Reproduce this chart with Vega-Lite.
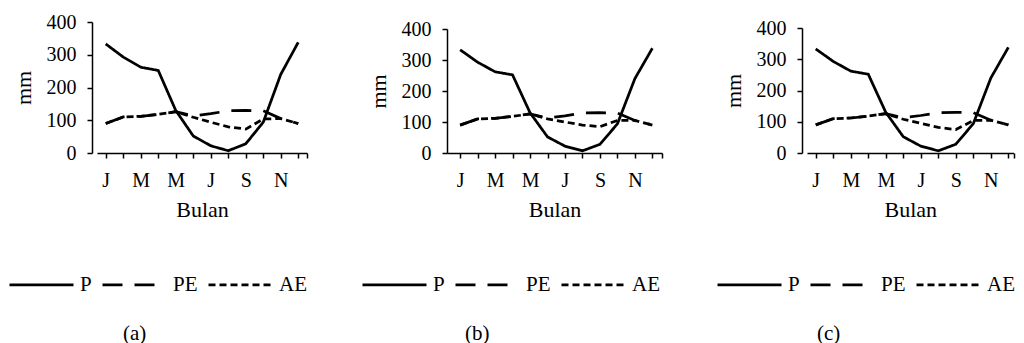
{
  "$schema": "https://vega.github.io/schema/vega-lite/v6.json",
  "bounds": "flush",
  "spacing": 139,
  "padding": {"left": 8, "top": 12, "right": 0, "bottom": 0},
  "resolve": {"scale": {"strokeDash": "independent"}, "legend": {"strokeDash": "independent"}},
  "config": {
    "view": {"stroke": null},
    "font": "Liberation Serif",
    "axis": {"domainColor": "black", "tickColor": "black", "labelColor": "black", "titleColor": "black", "labelFont": "Liberation Serif", "titleFont": "Liberation Serif", "labelFontSize": 20, "titleFontSize": 22, "titleFontWeight": "normal", "grid": false, "domainWidth": 1.5, "tickWidth": 1.5, "tickSize": 5},
    "axisY": {"labelPadding": 11, "titlePadding": 11},
    "axisX": {"labelPadding": 12, "titlePadding": 9},
    "legend": {"labelFont": "Liberation Serif", "labelFontSize": 21, "labelColor": "black"},
    "title": {"font": "Liberation Serif", "fontSize": 21, "fontWeight": "normal", "color": "black"}
  },
  "datasets": {
    "clim": [
      {"panel": "a", "series": "P", "month": 1, "mm": 333}, {"panel": "a", "series": "P", "month": 2, "mm": 293}, {"panel": "a", "series": "P", "month": 3, "mm": 262}, {"panel": "a", "series": "P", "month": 4, "mm": 252}, {"panel": "a", "series": "P", "month": 5, "mm": 130}, {"panel": "a", "series": "P", "month": 6, "mm": 52}, {"panel": "a", "series": "P", "month": 7, "mm": 22}, {"panel": "a", "series": "P", "month": 8, "mm": 7}, {"panel": "a", "series": "P", "month": 9, "mm": 28}, {"panel": "a", "series": "P", "month": 10, "mm": 94}, {"panel": "a", "series": "P", "month": 11, "mm": 240}, {"panel": "a", "series": "P", "month": 12, "mm": 338},
      {"panel": "a", "series": "PE", "month": 1, "mm": 90}, {"panel": "a", "series": "PE", "month": 2, "mm": 110}, {"panel": "a", "series": "PE", "month": 3, "mm": 112}, {"panel": "a", "series": "PE", "month": 4, "mm": 118}, {"panel": "a", "series": "PE", "month": 5, "mm": 126}, {"panel": "a", "series": "PE", "month": 6, "mm": 113}, {"panel": "a", "series": "PE", "month": 7, "mm": 120}, {"panel": "a", "series": "PE", "month": 8, "mm": 129}, {"panel": "a", "series": "PE", "month": 9, "mm": 130}, {"panel": "a", "series": "PE", "month": 10, "mm": 129}, {"panel": "a", "series": "PE", "month": 11, "mm": 105}, {"panel": "a", "series": "PE", "month": 12, "mm": 90},
      {"panel": "a", "series": "AE", "month": 1, "mm": 90}, {"panel": "a", "series": "AE", "month": 2, "mm": 110}, {"panel": "a", "series": "AE", "month": 3, "mm": 112}, {"panel": "a", "series": "AE", "month": 4, "mm": 118}, {"panel": "a", "series": "AE", "month": 5, "mm": 126}, {"panel": "a", "series": "AE", "month": 6, "mm": 109}, {"panel": "a", "series": "AE", "month": 7, "mm": 94}, {"panel": "a", "series": "AE", "month": 8, "mm": 80}, {"panel": "a", "series": "AE", "month": 9, "mm": 73}, {"panel": "a", "series": "AE", "month": 10, "mm": 104}, {"panel": "a", "series": "AE", "month": 11, "mm": 105}, {"panel": "a", "series": "AE", "month": 12, "mm": 90},
      {"panel": "b", "series": "P", "month": 1, "mm": 333}, {"panel": "b", "series": "P", "month": 2, "mm": 293}, {"panel": "b", "series": "P", "month": 3, "mm": 262}, {"panel": "b", "series": "P", "month": 4, "mm": 252}, {"panel": "b", "series": "P", "month": 5, "mm": 130}, {"panel": "b", "series": "P", "month": 6, "mm": 52}, {"panel": "b", "series": "P", "month": 7, "mm": 22}, {"panel": "b", "series": "P", "month": 8, "mm": 7}, {"panel": "b", "series": "P", "month": 9, "mm": 28}, {"panel": "b", "series": "P", "month": 10, "mm": 94}, {"panel": "b", "series": "P", "month": 11, "mm": 240}, {"panel": "b", "series": "P", "month": 12, "mm": 338},
      {"panel": "b", "series": "PE", "month": 1, "mm": 90}, {"panel": "b", "series": "PE", "month": 2, "mm": 110}, {"panel": "b", "series": "PE", "month": 3, "mm": 112}, {"panel": "b", "series": "PE", "month": 4, "mm": 118}, {"panel": "b", "series": "PE", "month": 5, "mm": 126}, {"panel": "b", "series": "PE", "month": 6, "mm": 113}, {"panel": "b", "series": "PE", "month": 7, "mm": 120}, {"panel": "b", "series": "PE", "month": 8, "mm": 129}, {"panel": "b", "series": "PE", "month": 9, "mm": 130}, {"panel": "b", "series": "PE", "month": 10, "mm": 129}, {"panel": "b", "series": "PE", "month": 11, "mm": 105}, {"panel": "b", "series": "PE", "month": 12, "mm": 90},
      {"panel": "b", "series": "AE", "month": 1, "mm": 90}, {"panel": "b", "series": "AE", "month": 2, "mm": 110}, {"panel": "b", "series": "AE", "month": 3, "mm": 112}, {"panel": "b", "series": "AE", "month": 4, "mm": 118}, {"panel": "b", "series": "AE", "month": 5, "mm": 126}, {"panel": "b", "series": "AE", "month": 6, "mm": 110}, {"panel": "b", "series": "AE", "month": 7, "mm": 100}, {"panel": "b", "series": "AE", "month": 8, "mm": 90}, {"panel": "b", "series": "AE", "month": 9, "mm": 85}, {"panel": "b", "series": "AE", "month": 10, "mm": 105}, {"panel": "b", "series": "AE", "month": 11, "mm": 105}, {"panel": "b", "series": "AE", "month": 12, "mm": 90},
      {"panel": "c", "series": "P", "month": 1, "mm": 333}, {"panel": "c", "series": "P", "month": 2, "mm": 293}, {"panel": "c", "series": "P", "month": 3, "mm": 262}, {"panel": "c", "series": "P", "month": 4, "mm": 252}, {"panel": "c", "series": "P", "month": 5, "mm": 130}, {"panel": "c", "series": "P", "month": 6, "mm": 52}, {"panel": "c", "series": "P", "month": 7, "mm": 22}, {"panel": "c", "series": "P", "month": 8, "mm": 7}, {"panel": "c", "series": "P", "month": 9, "mm": 28}, {"panel": "c", "series": "P", "month": 10, "mm": 94}, {"panel": "c", "series": "P", "month": 11, "mm": 240}, {"panel": "c", "series": "P", "month": 12, "mm": 338},
      {"panel": "c", "series": "PE", "month": 1, "mm": 90}, {"panel": "c", "series": "PE", "month": 2, "mm": 110}, {"panel": "c", "series": "PE", "month": 3, "mm": 112}, {"panel": "c", "series": "PE", "month": 4, "mm": 118}, {"panel": "c", "series": "PE", "month": 5, "mm": 126}, {"panel": "c", "series": "PE", "month": 6, "mm": 113}, {"panel": "c", "series": "PE", "month": 7, "mm": 120}, {"panel": "c", "series": "PE", "month": 8, "mm": 129}, {"panel": "c", "series": "PE", "month": 9, "mm": 130}, {"panel": "c", "series": "PE", "month": 10, "mm": 129}, {"panel": "c", "series": "PE", "month": 11, "mm": 105}, {"panel": "c", "series": "PE", "month": 12, "mm": 90},
      {"panel": "c", "series": "AE", "month": 1, "mm": 90}, {"panel": "c", "series": "AE", "month": 2, "mm": 110}, {"panel": "c", "series": "AE", "month": 3, "mm": 112}, {"panel": "c", "series": "AE", "month": 4, "mm": 118}, {"panel": "c", "series": "AE", "month": 5, "mm": 126}, {"panel": "c", "series": "AE", "month": 6, "mm": 108}, {"panel": "c", "series": "AE", "month": 7, "mm": 95}, {"panel": "c", "series": "AE", "month": 8, "mm": 82}, {"panel": "c", "series": "AE", "month": 9, "mm": 75}, {"panel": "c", "series": "AE", "month": 10, "mm": 104}, {"panel": "c", "series": "AE", "month": 11, "mm": 105}, {"panel": "c", "series": "AE", "month": 12, "mm": 90}
    ]
  },
  "hconcat": [
    {
      "width": 216, "height": 131,
      "data": {"name": "clim"},
      "transform": [{"filter": "datum.panel == 'a'"}],
      "title": {"text": "(a)", "orient": "bottom", "anchor": "start", "frame": "group", "dx": 31, "offset": 28},
      "mark": {"type": "line", "color": "black", "strokeWidth": 2.75},
      "encoding": {
        "x": {"field": "month", "type": "quantitative", "scale": {"domain": [0.5, 12.5], "range": [5, 215], "nice": false, "zero": false},
              "axis": {"values": [1,2,3,4,5,6,7,8,9,10,11,12,12.5], "labelExpr": "datum.value % 2 == 1 && datum.value < 12 ? ['','J','F','M','A','M','J','J','A','S','O','N','D'][datum.value] : ''", "title": "Bulan", "labelAngle": 0, "labelFlush": false}},
        "y": {"field": "mm", "type": "quantitative", "scale": {"domain": [0, 400], "range": [131, 0], "nice": false},
              "axis": {"values": [0,100,200,300,400], "title": "mm"}},
        "strokeDash": {"field": "series", "type": "nominal", "scale": {"domain": ["P", "PE", "AE"], "range": [[1, 0], [20, 12], [7, 4]]},
              "legend": {"orient": "none", "legendX": -84, "legendY": 229, "direction": "horizontal", "title": null, "symbolType": "stroke", "symbolSize": 4096, "symbolStrokeWidth": 2.75, "symbolStrokeColor": "black", "labelOffset": 5, "columnPadding": 5}}
      }
    },
    {
      "width": 216, "height": 131,
      "data": {"name": "clim"},
      "transform": [{"filter": "datum.panel == 'b'"}],
      "title": {"text": "(b)", "orient": "bottom", "anchor": "start", "frame": "group", "dx": 18, "offset": 28},
      "mark": {"type": "line", "color": "black", "strokeWidth": 2.75},
      "encoding": {
        "x": {"field": "month", "type": "quantitative", "scale": {"domain": [0.25, 12.55], "range": [0, 215], "nice": false, "zero": false},
              "axis": {"values": [1,2,3,4,5,6,7,8,9,10,11,12,12.55], "labelExpr": "datum.value % 2 == 1 && datum.value < 12 ? ['','J','F','M','A','M','J','J','A','S','O','N','D'][datum.value] : ''", "title": "Bulan", "labelAngle": 0, "labelFlush": false}},
        "y": {"field": "mm", "type": "quantitative", "scale": {"domain": [0, 400], "range": [131, 7], "nice": false},
              "axis": {"values": [0,100,200,300,400], "title": "mm"}},
        "strokeDash": {"field": "series", "type": "nominal", "scale": {"domain": ["P", "PE", "AE"], "range": [[1, 0], [20, 12], [7, 4]]},
              "legend": {"orient": "none", "legendX": -86, "legendY": 229, "direction": "horizontal", "title": null, "symbolType": "stroke", "symbolSize": 4096, "symbolStrokeWidth": 2.75, "symbolStrokeColor": "black", "labelOffset": 5, "columnPadding": 5}}
      }
    },
    {
      "width": 216, "height": 131,
      "data": {"name": "clim"},
      "transform": [{"filter": "datum.panel == 'c'"}],
      "title": {"text": "(c)", "orient": "bottom", "anchor": "start", "frame": "group", "dx": 15, "offset": 28},
      "mark": {"type": "line", "color": "black", "strokeWidth": 2.75},
      "encoding": {
        "x": {"field": "month", "type": "quantitative", "scale": {"domain": [0.5, 12.3], "range": [5, 211.6], "nice": false, "zero": false},
              "axis": {"values": [1,2,3,4,5,6,7,8,9,10,11,12,12.3], "labelExpr": "datum.value % 2 == 1 && datum.value < 12 ? ['','J','F','M','A','M','J','J','A','S','O','N','D'][datum.value] : ''", "title": "Bulan", "labelAngle": 0, "labelFlush": false}},
        "y": {"field": "mm", "type": "quantitative", "scale": {"domain": [0, 400], "range": [131, 6], "nice": false},
              "axis": {"values": [0,100,200,300,400], "title": "mm"}},
        "strokeDash": {"field": "series", "type": "nominal", "scale": {"domain": ["P", "PE", "AE"], "range": [[1, 0], [20, 12], [7, 4]]},
              "legend": {"orient": "none", "legendX": -86, "legendY": 229, "direction": "horizontal", "title": null, "symbolType": "stroke", "symbolSize": 4096, "symbolStrokeWidth": 2.75, "symbolStrokeColor": "black", "labelOffset": 5, "columnPadding": 5}}
      }
    }
  ]
}
